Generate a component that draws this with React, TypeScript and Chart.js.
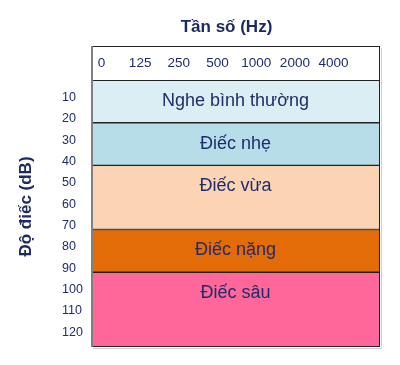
import React, { useEffect, useRef } from "react";
import { Chart, registerables } from "chart.js";

Chart.register(...registerables);

// ---- data ----
const freqLabels: string[] = ["0", "125", "250", "500", "1000", "2000", "4000"];
const dbTicks: number[] = [10, 20, 30, 40, 50, 60, 70, 80, 90, 100, 110, 120];
const bandNames: string[] = ["Nghe bình thường", "Điếc nhẹ", "Điếc vừa", "Điếc nặng", "Điếc sâu"];
const bandStart: number[] = [0, 20, 40, 70, 90];
const bandEnd: number[] = [20, 40, 70, 90, 125];
const bandColors: string[] = ["#DAEEF3", "#B7DDE8", "#FBD4B4", "#E36C09", "#FF6699"];
const xTitle = "Tần số (Hz)";
const yTitle = "Độ điếc (dB)";

const FONT = '"Liberation Sans", Arial, sans-serif';
const NAVY = "#1B2A63";
const TEXT = "#1F2C6B";

const overlay = {
  id: "overlay",
  afterDatasetsDraw(chart: any) {
    const { ctx, chartArea: a, scales } = chart;
    const ys = scales.y;
    const top = scales.freq.top;
    ctx.save();
    // band names
    ctx.fillStyle = TEXT;
    ctx.font = `18px ${FONT}`;
    ctx.textAlign = "center";
    ctx.textBaseline = "middle";
    const cx = (a.left + a.right) / 2;
    bandNames.forEach((n, i) => {
      ctx.fillText(n, cx, ys.getPixelForValue(bandStart[i]) + 21);
    });
    // frame (header + plot)
    ctx.strokeStyle = "#D0D0D0";
    ctx.lineWidth = 1;
    ctx.beginPath();
    ctx.moveTo(a.right + 1.5, top + 2);
    ctx.lineTo(a.right + 1.5, a.bottom + 1.5);
    ctx.lineTo(a.left + 2, a.bottom + 1.5);
    ctx.stroke();
    ctx.strokeStyle = "#222222";
    ctx.strokeRect(a.left + 0.5, top + 0.5, a.width - 1, a.bottom - top - 1);
    ctx.beginPath();
    ctx.moveTo(a.left, a.top + 0.5);
    ctx.lineTo(a.right, a.top + 0.5);
    ctx.stroke();
    ctx.strokeStyle = "#808080";
    ctx.lineWidth = 2;
    ctx.beginPath();
    ctx.moveTo(a.left + 1, top);
    ctx.lineTo(a.left + 1, a.bottom);
    ctx.stroke();
    // titles
    ctx.fillStyle = NAVY;
    ctx.font = `bold 17px ${FONT}`;
    ctx.fillText(xTitle, cx - 9, top - 19);
    ctx.translate(26, (top + a.bottom) / 2 + 10);
    ctx.rotate(-Math.PI / 2);
    ctx.fillText(yTitle, 0, 0);
    ctx.restore();
  },
};

export default function App() {
  const ref = useRef<HTMLCanvasElement | null>(null);

  useEffect(() => {
    if (!ref.current) return;
    Chart.defaults.font.family = FONT;
    const chart = new Chart(ref.current, {
      type: "bar",
      data: {
        labels: ["band"],
        datasets: bandNames.map((n, i) => ({
          label: n,
          data: [[bandStart[i], bandEnd[i]]] as any,
          backgroundColor: bandColors[i],
          borderColor: "#222222",
          borderWidth: 1,
          borderSkipped: false,
          xAxisID: "xb",
          yAxisID: "y",
          barPercentage: 1,
          categoryPercentage: 1,
          grouped: false,
        })),
      },
      options: {
        animation: false,
        responsive: true,
        maintainAspectRatio: false,
        layout: { padding: { left: 62, right: 20, top: 46, bottom: 18 } },
        plugins: {
          legend: { display: false },
          tooltip: { enabled: false },
        },
        scales: {
          xb: {
            type: "category",
            display: false,
            offset: true,
          },
          freq: {
            type: "linear",
            axis: "x",
            position: "top",
            offset: false,
            min: -0.27,
            max: 7.2,
            afterBuildTicks: (s: any) => {
              s.ticks = freqLabels.map((_, i) => ({ value: i }));
            },
            afterFit: (s: any) => {
              s.height = 34;
            },
            ticks: {
              autoSkip: false,
              maxRotation: 0,
              padding: 9,
              color: TEXT,
              font: { size: 13.5, family: FONT },
              callback: (v: any) => freqLabels[Number(v)] ?? "",
            },
            grid: { display: false, drawTicks: false },
            border: { display: false },
          } as any,
          y: {
            type: "linear",
            position: "left",
            reverse: true,
            min: 0,
            max: 125,
            afterBuildTicks: (s: any) => {
              s.ticks = dbTicks.map((v) => ({ value: v }));
            },
            afterFit: (s: any) => {
              s.width = 29;
            },
            ticks: {
              crossAlign: "far",
              labelOffset: -4,
              autoSkip: false,
              color: TEXT,
              font: { size: 12.5, family: FONT },
            },
            grid: { display: false },
            border: { display: false },
          } as any,
        },
      },
      plugins: [overlay],
    });
    return () => chart.destroy();
  }, []);

  return (
    <div style={{ position: "absolute", left: 0, top: 0, width: 400, height: 365, background: "#fff" }}>
      <canvas ref={ref} />
    </div>
  );
}
